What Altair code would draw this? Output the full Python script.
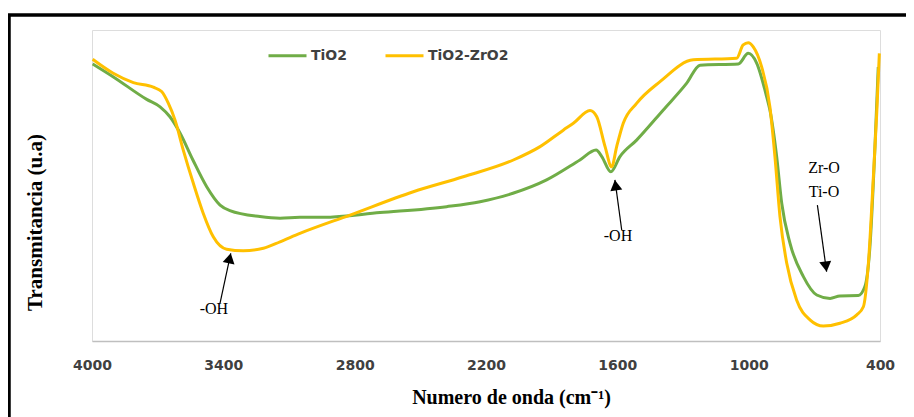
import altair as alt
import pandas as pd

# ---- data ----
tio2_wn = [3997, 3904, 3750, 3689, 3644, 3598, 3539, 3476, 3415, 3370, 3233, 3141, 3050, 2945,
           2684, 2380, 2227, 2077, 1923, 1771, 1697, 1671, 1630, 1588, 1512, 1390, 1283, 1222,
           1047, 1002, 963, 918, 903, 872, 849, 811, 750, 689, 628, 583, 499, 469, 446, 423, 408]
tio2_t = [89.1, 85.0, 77.7, 75.3, 72.1, 66.9, 58.2, 49.6, 43.7, 41.9, 40.0, 39.5, 39.8, 39.8,
          41.3, 43.2, 44.8, 47.5, 51.8, 58.2, 61.4, 59.3, 54.4, 59.3, 64.6, 74.3, 82.9, 88.7,
          89.1, 92.5, 89.3, 78.6, 74.3, 59.3, 44.3, 31.4, 20.7, 14.8, 13.7, 14.5, 14.6, 17.5,
          30.3, 62.5, 88.1]

zr_wn = [3997, 3903, 3811, 3720, 3682, 3651, 3621, 3583, 3537, 3492, 3446, 3385, 3309, 3217,
         3141, 3050, 2821, 2532, 2304, 2075, 1953, 1847, 1801, 1725, 1694, 1656, 1626, 1603,
         1573, 1512, 1405, 1253, 1055, 1025, 1002, 979, 941, 903, 880, 857, 826, 781, 720,
         659, 583, 506, 476, 453, 431, 415, 403]
zr_t = [90.6, 86.1, 83.1, 81.6, 80.2, 76.4, 71.1, 61.4, 50.7, 41.1, 33.5, 29.5, 29.0, 29.8,
        31.9, 34.6, 40.5, 48.0, 52.8, 58.2, 62.5, 67.8, 70.0, 74.1, 72.1, 62.5, 56.0, 62.5,
        70.0, 76.4, 83.4, 90.4, 90.9, 95.2, 95.9, 94.6, 88.2, 75.3, 59.3, 40.0, 25.0, 13.2,
        6.8, 4.8, 5.7, 8.4, 11.0, 25.0, 51.8, 73.2, 92.5]

series_names = ["TiO2", "TiO2-ZrO2"]
series_colors = ["#70AD47", "#FFC000"]
x_ticks = [4000, 3400, 2800, 2200, 1600, 1000, 400]

# annotations: arrows (tail -> tip), arrow-head centre and angle, labels
arrow_tail_wn = [3415, 1580, 686]
arrow_tail_t = [12.2, 35.7, 43.7]
arrow_tip_wn = [3366, 1611, 644]
arrow_tip_t = [28.2, 51.8, 22.3]
head_wn = [3371, 1608, 647]
head_t = [26.6, 50.1, 23.9]
head_angle = [12, 352, 172]
label_text = ["-OH", "-OH", "Zr-O", "Ti-O"]
label_wn = [3443, 1597, 656, 656]
label_t = [10.3, 33.8, 55.6, 48.0]

# ---- tables ----
rows = [{"wn": w, "t": t, "serie": series_names[0]} for w, t in zip(tio2_wn, tio2_t)]
rows += [{"wn": w, "t": t, "serie": series_names[1]} for w, t in zip(zr_wn, zr_t)]
df = pd.DataFrame(rows)
arrows = pd.DataFrame({"x": arrow_tail_wn, "y": arrow_tail_t, "x2": arrow_tip_wn, "y2": arrow_tip_t})
heads = pd.DataFrame({"x": head_wn, "y": head_t, "a": head_angle})
labels = pd.DataFrame({"x": label_wn, "y": label_t, "txt": label_text})

W, H = 788, 311
xs = alt.Scale(domain=[4000, 400], nice=False, zero=False)
ys = alt.Scale(domain=[0, 100], nice=False, zero=False)

lines = alt.Chart(df).mark_line(strokeWidth=3, interpolate="monotone").encode(
    x=alt.X("wn:Q", scale=xs,
            axis=alt.Axis(values=x_ticks, format="d", grid=False, ticks=False,
                          domainColor="#BFBFBF", domainWidth=1.5,
                          labelFont="DejaVu Sans", labelFontSize=14, labelFontWeight="bold",
                          labelColor="#404040", labelPadding=17, labelFlush=False,
                          title="Numero de onda (cm⁻¹)", titleFont="Liberation Serif",
                          titleFontSize=20, titleFontWeight="bold", titleColor="#000000",
                          titleX=419, titleY=56, titleAlign="center", titleBaseline="middle")),
    y=alt.Y("t:Q", scale=ys,
            axis=alt.Axis(labels=False, ticks=False, domain=False, grid=False,
                          title="Transmitancia (u.a)", titleFont="Liberation Serif",
                          titleFontSize=21, titleFontWeight="bold", titleColor="#000000",
                          titleAngle=-90, titleX=-57, titleY=192, titleAlign="center",
                          titleBaseline="middle")),
    color=alt.Color("serie:N", scale=alt.Scale(domain=series_names, range=series_colors),
                    legend=alt.Legend(title=None, orient="none", legendX=175, legendY=5,
                                      direction="horizontal", symbolType="stroke",
                                      symbolSize=1444, symbolStrokeWidth=3,
                                      labelFont="DejaVu Sans", labelFontSize=14,
                                      labelFontWeight="bold", labelColor="#404040",
                                      labelOffset=3, columnPadding=32)),
    order="wn:Q",
    detail="serie:N",
)

arrow_lines = alt.Chart(arrows).mark_rule(color="#000000", strokeWidth=1.2).encode(
    x=alt.X("x:Q", scale=xs), y=alt.Y("y:Q", scale=ys), x2="x2:Q", y2="y2:Q")

arrow_heads = alt.Chart(heads).mark_point(shape="triangle-up", filled=True, color="#000000",
                                           size=144, opacity=1).encode(
    x=alt.X("x:Q", scale=xs), y=alt.Y("y:Q", scale=ys), angle=alt.Angle("a:Q", scale=None))

texts = alt.Chart(labels).mark_text(font="Liberation Serif", fontSize=16, color="#000000",
                                    align="center", baseline="middle").encode(
    x=alt.X("x:Q", scale=xs), y=alt.Y("y:Q", scale=ys), text="txt:N")

frame = alt.Chart(pd.DataFrame({"a": [0]})).mark_rect(fill=None, fillOpacity=0, stroke="#000000",
                                                     strokeWidth=3.5).encode(
    x=alt.value(-83), x2=alt.value(1000), y=alt.value(-15), y2=alt.value(600))

chart = alt.layer(frame, lines, arrow_lines, arrow_heads, texts).properties(
    width=W, height=H,
    autosize=alt.AutoSizeParams(type="none"),
    padding={"left": 84, "top": 22, "right": 26, "bottom": 76},
).configure_view(stroke=None).configure(background="#FFFFFF")

chart.save("out.html", embed_options={"renderer": "svg", "actions": False})
